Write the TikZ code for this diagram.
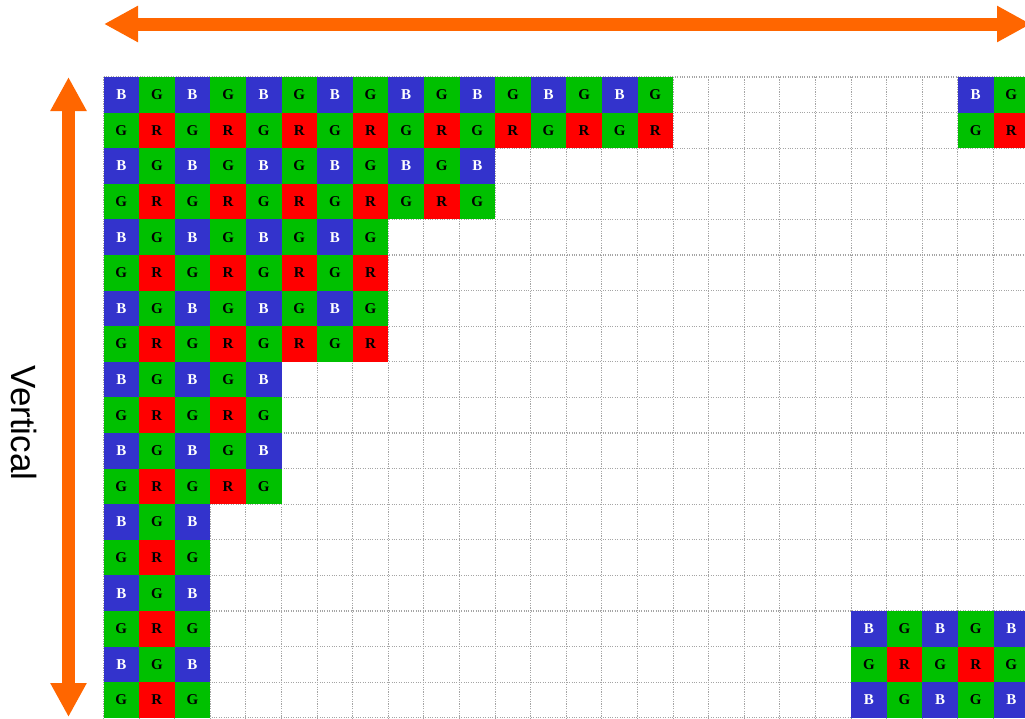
\documentclass[tikz,border=0pt]{standalone}
\usepackage{fontspec}
\setmainfont{Liberation Serif}
\newfontfamily\labelfont{Liberation Sans}
\usetikzlibrary{arrows.meta}
\definecolor{bayerB}{RGB}{51,51,204}
\definecolor{bayerG}{RGB}{0,192,0}
\definecolor{bayerR}{RGB}{255,0,0}
\definecolor{arrowOrange}{RGB}{255,102,0}
\definecolor{gridgray}{RGB}{165,165,165}
\tikzset{
  cell/.style={minimum size=35.6pt, inner sep=0pt, outer sep=0pt, font=\fontsize{15}{15}\selectfont\bfseries},
  gridline/.style={gridgray, line width=1.1pt, dash pattern=on 1.1pt off 1.3pt},
  bigarrow/.style={arrowOrange, line width=13pt, {Triangle[length=34pt,width=34pt]}-{Triangle[length=34pt,width=34pt]}},
  axislabel/.style={font=\labelfont\fontsize{35}{35}\selectfont, rotate=-90, inner sep=0pt},
}
\newcommand\bayercell[3]{%
  \pgfmathtruncatemacro\bcRow{mod(#2+#3,2)}%
  \pgfmathtruncatemacro\bcCol{mod(#1+#3,2)}%
  \ifnum\bcRow=0
    \ifnum\bcCol=0 \def\bcType{B}\def\bcText{white}\else\def\bcType{G}\def\bcText{black}\fi
  \else
    \ifnum\bcCol=1 \def\bcType{R}\def\bcText{black}\else\def\bcType{G}\def\bcText{black}\fi
  \fi
  \node[cell, fill=bayer\bcType, text=\bcText] (c-#1-#2) at ({103.5+35.6*(#1+0.5)},{77+35.6*(#2+0.5)}) {\bcType};%
}
\begin{document}
\begin{tikzpicture}[x=1pt,y=-1pt]
\useasboundingbox[fill=white] (0,0) rectangle (1025,718);
% dotted grid
\foreach \k in {0,...,25} {
  \draw[gridline] ({103.5+35.6*\k},77) -- ({103.5+35.6*\k},718);
}
\foreach \k in {0,...,18} {
  \draw[gridline] (103.5,{77+35.6*\k}) -- (1025,{77+35.6*\k});
}
% staircase of Bayer cells
\foreach \r/\n in {0/16,1/16,2/11,3/11,4/8,5/8,6/8,7/8,8/5,9/5,10/5,11/5,12/3,13/3,14/3,15/3,16/3,17/3} {
  \pgfmathtruncatemacro\lastc{\n-1}
  \foreach \c in {0,...,\lastc} { \bayercell{\c}{\r}{0} }
}
% top right patch
\foreach \r in {0,1} { \foreach \c in {24,25} { \bayercell{\c}{\r}{0} } }
% bottom right patch
\foreach \r in {15,16,17} { \foreach \c in {21,...,25} { \bayercell{\c}{\r}{1} } }
% arrows
\coordinate (hL) at (104,24);
\coordinate (hR) at (1031,24);
\coordinate (vT) at (68.5,77);
\coordinate (vB) at (68.5,717);
\draw[bigarrow] (hL) -- (hR);
\draw[bigarrow] (vT) -- (vB);
\node[axislabel] (vlabel) at (24,423) {Vertical};
\end{tikzpicture}
\end{document}
